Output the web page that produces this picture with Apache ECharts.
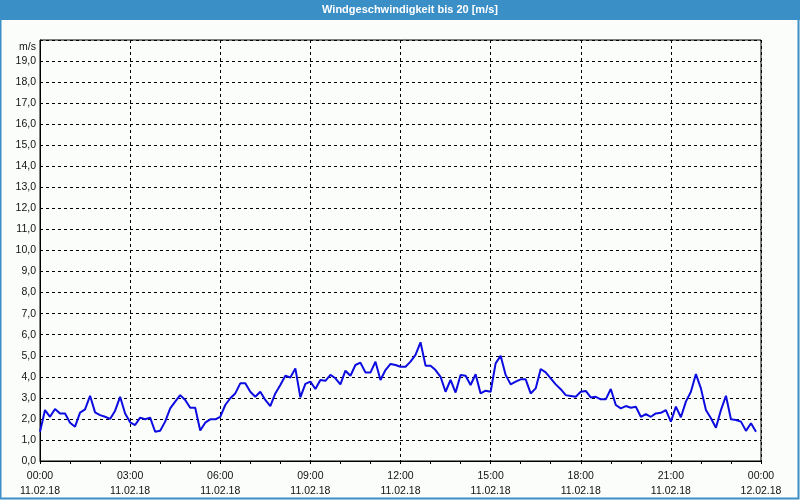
<!DOCTYPE html>
<html>
<head>
<meta charset="utf-8">
<script src="https://cdn.jsdelivr.net/npm/echarts@6/dist/echarts.min.js"></script>
<style>html,body{margin:0;padding:0;background:#fbfdfb;}#c{width:800px;height:500px;}</style>
</head>
<body>
<div id="c"></div>
<script>
// Wind speed in m/s, one value every 10 minutes starting 11.02.18 00:00
const windSpeed = [
  1.39, 2.42, 2.10, 2.47, 2.26, 2.26, 1.82, 1.63, 2.30, 2.45,
  3.10, 2.31, 2.18, 2.10, 2.00, 2.39, 3.05, 2.26, 1.84, 1.71,
  2.06, 1.98, 2.06, 1.39, 1.44, 1.87, 2.50, 2.82, 3.13, 2.90,
  2.53, 2.53, 1.45, 1.82, 1.98, 1.98, 2.10, 2.66, 2.98, 3.21,
  3.69, 3.69, 3.29, 3.05, 3.29, 2.90, 2.61, 3.21, 3.61, 4.05,
  3.97, 4.40, 3.02, 3.66, 3.77, 3.42, 3.85, 3.81, 4.09, 3.93,
  3.64, 4.29, 4.05, 4.56, 4.67, 4.21, 4.20, 4.72, 3.85, 4.32,
  4.61, 4.56, 4.48, 4.48, 4.72, 5.04, 5.64, 4.53, 4.53, 4.32,
  4.00, 3.29, 3.85, 3.25, 4.09, 4.05, 3.61, 4.12, 3.21, 3.34,
  3.29, 4.64, 5.00, 4.09, 3.64, 3.77, 3.88, 3.88, 3.21, 3.45,
  4.37, 4.21, 3.93, 3.64, 3.41, 3.13, 3.09, 3.05, 3.29, 3.33,
  3.02, 3.05, 2.93, 2.93, 3.42, 2.66, 2.50, 2.61, 2.53, 2.58,
  2.10, 2.23, 2.10, 2.26, 2.29, 2.42, 1.87, 2.58, 2.08, 2.82,
  3.29, 4.13, 3.45, 2.42, 2.03, 1.58, 2.42, 3.10, 1.98, 1.95,
  1.87, 1.43, 1.79, 1.39
];
const stepMinutes = 10;
const xTickTimes = ['00:00','03:00','06:00','09:00','12:00','15:00','18:00','21:00','00:00'];
const xTickDates = ['11.02.18','11.02.18','11.02.18','11.02.18','11.02.18','11.02.18','11.02.18','11.02.18','12.02.18'];
const titleText = 'Windgeschwindigkeit bis 20 [m/s]';
const unitText = 'm/s';

const seriesData = windSpeed.map((v, i) => [i * stepMinutes, v]);
const labelFont = 'Liberation Sans';
const chart = echarts.init(document.getElementById('c'), null, {renderer: 'canvas'});
chart.setOption({
  animation: false,
  backgroundColor: '#fbfdfb',
  grid: {left: 40, right: 39, top: 40, bottom: 39, show: true, borderColor: '#000', borderWidth: 1, backgroundColor: 'transparent'},
  xAxis: {
    type: 'value', min: 0, max: 1440, interval: 180,
    axisLine: {show: true, lineStyle: {color: '#000', width: 1}},
    axisTick: {show: true, length: 3, lineStyle: {color: '#000'}},
    minorTick: {show: true, splitNumber: 3, length: 3, lineStyle: {color: '#000'}},
    splitLine: {show: true, lineStyle: {color: '#000', type: [3, 3], width: 1}},
    axisLabel: {
      margin: 8, color: '#111', fontFamily: labelFont, fontSize: 10.5, lineHeight: 15,
      showMinLabel: true, showMaxLabel: true,
      formatter: v => { const k = Math.round(v / 180); return xTickTimes[k] + '\n' + xTickDates[k]; }
    }
  },
  yAxis: {
    type: 'value', min: 0, max: 20, interval: 1,
    axisLine: {show: true, lineStyle: {color: '#000', width: 1}},
    axisTick: {show: false},
    splitLine: {show: true, lineStyle: {color: '#000', type: [3, 3], width: 1}},
    axisLabel: {
      margin: 4, color: '#111', fontFamily: labelFont, fontSize: 10.5, showMaxLabel: false,
      formatter: v => v >= 20 ? '' : v.toFixed(1).replace('.', ',')
    }
  },
  series: [{
    type: 'line', data: seriesData, showSymbol: false, symbol: 'none',
    lineStyle: {color: '#0c0ce0', width: 2}, z: 5
  }],
  graphic: [
    {type: 'rect', shape: {x: 0, y: 0, width: 800, height: 20}, style: {fill: '#3b8fc7'}, z: 10},
    {type: 'rect', shape: {x: 0.5, y: 0.5, width: 798, height: 498}, style: {fill: 'none', stroke: '#3b8fc7', lineWidth: 2}, z: 10},
    {type: 'text', x: 410, y: 10, style: {text: titleText, fill: '#fff', font: 'bold 11px "Liberation Sans"', align: 'center', verticalAlign: 'middle'}, z: 11},
    {type: 'text', x: 36, y: 47, style: {text: unitText, fill: '#111', font: '10.5px "Liberation Sans"', align: 'right', verticalAlign: 'middle'}, z: 11}
  ]
});
</script>
</body>
</html>
